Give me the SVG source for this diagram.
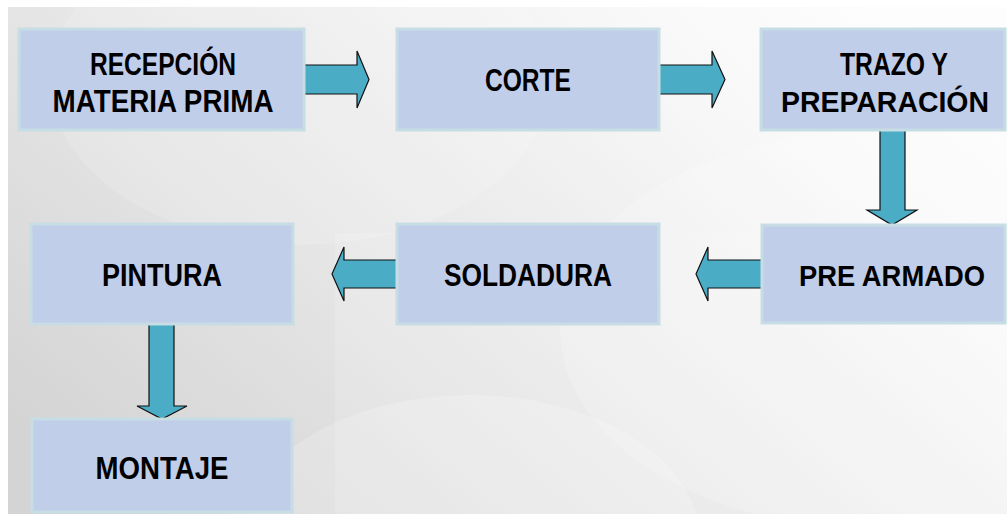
<svg xmlns="http://www.w3.org/2000/svg" width="1007" height="514" viewBox="0 0 1007 514">
<defs>
<linearGradient id="bg" x1="0" y1="0.8" x2="1" y2="0.2">
<stop offset="0" stop-color="#d4d4d4"/>
<stop offset="0.45" stop-color="#e9e9e9"/>
<stop offset="0.8" stop-color="#f8f8f8"/>
<stop offset="1" stop-color="#fdfdfd"/>
</linearGradient>
<style>
.box{fill:#c0ceea;stroke:#c6dde3;stroke-width:3}
.arr{fill:#4bacc6;stroke:#111;stroke-width:1.2;stroke-linejoin:miter}
.t{font-family:"Liberation Sans",Arial,sans-serif;font-weight:bold;font-size:31px;fill:#000;text-anchor:middle}
.s{font-size:29px}
</style>
</defs>
<rect x="0" y="0" width="1007" height="514" fill="#ffffff"/>
<rect x="8" y="7" width="999" height="507" fill="url(#bg)"/>
<ellipse cx="300" cy="80" rx="250" ry="165" fill="#ffffff" opacity="0.15"/>
<ellipse cx="880" cy="330" rx="320" ry="200" fill="#ffffff" opacity="0.2"/>
<rect x="335" y="233" width="672" height="281" fill="#ffffff" opacity="0.15"/>
<ellipse cx="470" cy="540" rx="230" ry="145" fill="#ffffff" opacity="0.2"/>
<g id="connectors">
<polygon class="arr" points="302,65 357,65 357,51 369,79.5 357,108 357,94 302,94"/>
<polygon class="arr" points="657,65 712,65 712,51 725,79.5 712,108 712,94 657,94"/>
<polygon class="arr" points="880,128 905,128 905,210 917,210 892,225 867,210 880,210"/>
<polygon class="arr" points="763,260 708,260 708,247 696,274 708,301 708,288 763,288"/>
<polygon class="arr" points="399,260 344,260 344,247 332,274 344,301 344,288 399,288"/>
<polygon class="arr" points="149,323 174,323 174,406 187,406 162,419 137,406 149,406"/>
</g>
<g id="n1">
<rect class="box" x="19" y="29" width="285" height="101"/>
<text class="t" x="163" y="75" textLength="146" lengthAdjust="spacingAndGlyphs">RECEPCIÓN</text>
<text class="t" x="163" y="112" textLength="221" lengthAdjust="spacingAndGlyphs">MATERIA PRIMA</text>
</g>
<g id="n2">
<rect class="box" x="397" y="29" width="262" height="101"/>
<text class="t" x="528" y="91" textLength="86" lengthAdjust="spacingAndGlyphs">CORTE</text>
</g>
<g id="n3">
<rect class="box" x="761" y="29" width="244" height="101"/>
<text class="t" x="894" y="75" textLength="108" lengthAdjust="spacingAndGlyphs">TRAZO Y</text>
<text class="t s" x="885" y="112" textLength="208" lengthAdjust="spacingAndGlyphs">PREPARACIÓN</text>
</g>
<g id="n4">
<rect class="box" x="762" y="225" width="243" height="98"/>
<text class="t s" x="892" y="286" textLength="186" lengthAdjust="spacingAndGlyphs">PRE ARMADO</text>
</g>
<g id="n5">
<rect class="box" x="397" y="224" width="262" height="100"/>
<text class="t" x="528" y="286" textLength="168" lengthAdjust="spacingAndGlyphs">SOLDADURA</text>
</g>
<g id="n6">
<rect class="box" x="31" y="224" width="262" height="100"/>
<text class="t" x="162" y="286" textLength="120" lengthAdjust="spacingAndGlyphs">PINTURA</text>
</g>
<g id="n7">
<rect class="box" x="32" y="419" width="260" height="93"/>
<text class="t" x="162" y="479" textLength="133" lengthAdjust="spacingAndGlyphs">MONTAJE</text>
</g>
</svg>
